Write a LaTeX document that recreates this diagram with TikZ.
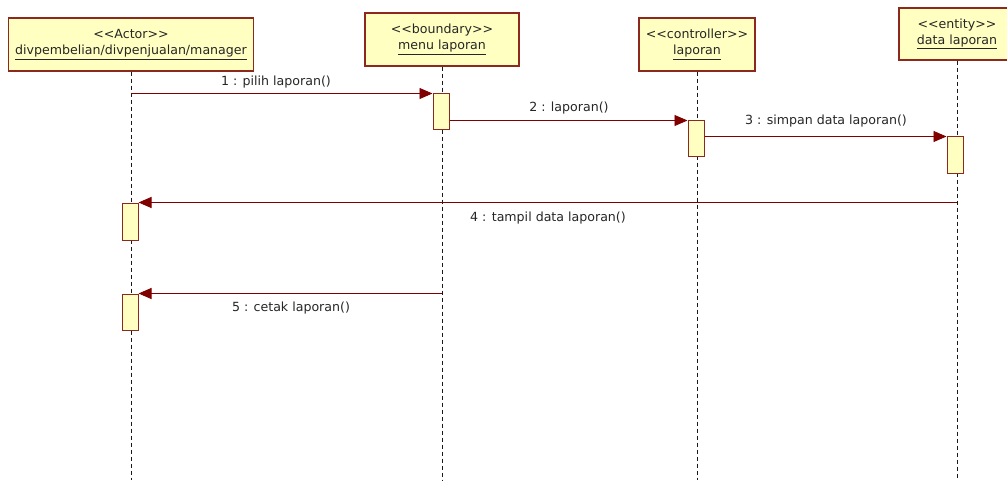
\documentclass[tikz,border=0pt]{standalone}
\usepackage{fontspec}
\setmainfont{DejaVu Sans}
\usetikzlibrary{arrows.meta}
\definecolor{boxfill}{RGB}{255,255,194}
\definecolor{boxline}{RGB}{140,40,30}
\definecolor{msg}{RGB}{128,0,0}
\newcommand{\stereo}[1]{{<}{<}#1{>}{>}}
\begin{document}
\begin{tikzpicture}[x=1pt,y=-1pt,
  obj/.style={draw=boxline, fill=boxfill, line width=1.2pt, inner sep=0pt, align=center,
              font=\fontsize{12.6}{16}\selectfont, text=black!85},
  act/.style={draw=boxline, fill=boxfill, line width=1pt, minimum width=16pt, inner sep=0pt},
  life/.style={draw=black!90, dash pattern=on 4pt off 3pt, line width=0.9pt},
  msgline/.style={draw=msg, line width=0.9pt, -{Triangle[length=13pt,width=11pt]}},
  lbl/.style={font=\fontsize{12.6}{14}\selectfont, inner sep=0pt, text=black!85}]
\useasboundingbox (0,0) rectangle (1007,484);
\fill[white] (0,0) rectangle (1007,484);

% objects
\node[obj, minimum width=245pt, minimum height=53pt] (actor) at (131,44.5)
  {\stereo{Actor}\\\underline{divpembelian/divpenjualan/manager}};
\node[obj, minimum width=154pt, minimum height=53pt] (boundary) at (442,39.5)
  {\stereo{boundary}\\\underline{menu laporan}};
\node[obj, minimum width=116pt, minimum height=53pt] (controller) at (697,44.5)
  {\stereo{controller}\\\underline{laporan}};
\node[obj, minimum width=116pt, minimum height=52pt] (entity) at (957,34)
  {\stereo{entity}\\\underline{data laporan}};

% lifeline ends
\coordinate (aEnd) at (131,480);
\coordinate (bEnd) at (442,480);
\coordinate (cEnd) at (697,480);
\coordinate (eEnd) at (957,480);
\draw[life] (actor.south) -- (aEnd);
\draw[life] (boundary.south) -- (bEnd);
\draw[life] (controller.south) -- (cEnd);
\draw[life] (entity.south) -- (eEnd);

% activations
\node[act, minimum height=36pt] (b1) at (441,112) {};
\node[act, minimum height=36pt] (c1) at (696,139) {};
\node[act, minimum height=37pt] (e1) at (955,155.5) {};
\node[act, minimum height=37pt] (a1) at (130,221.5) {};
\node[act, minimum height=36pt] (a2) at (130,312) {};

% messages
\draw[msgline] (b1.north west -| actor.south) -- (b1.north west);
\draw[msgline] (c1.north west -| b1.east) -- (c1.north west);
\draw[msgline] (e1.north west -| c1.east) -- (e1.north west);
\draw[msgline] (a1.north east -| entity.south) -- (a1.north east);
\draw[msgline] (a2.north east -| boundary.south) -- (a2.north east);

% labels
\node[lbl] (l1) at (276,82) {1 : pilih laporan()};
\node[lbl] (l2) at (569,108) {2 : laporan()};
\node[lbl] (l3) at (826,121) {3 : simpan data laporan()};
\node[lbl] (l4) at (548,218) {4 : tampil data laporan()};
\node[lbl] (l5) at (291,308) {5 : cetak laporan()};
\end{tikzpicture}
\end{document}
